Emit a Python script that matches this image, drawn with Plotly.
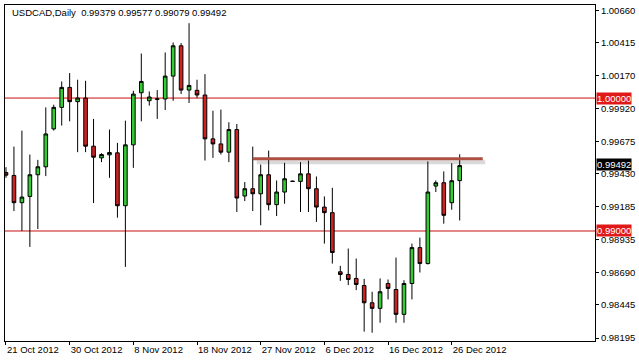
import plotly.graph_objects as go

# ---- data ----
opens = [0.99440, 0.99418, 0.99213, 0.99260, 0.99423, 0.99483, 0.99768, 0.99930, 1.00080, 0.99973,
         1.00000, 0.99638, 0.99550, 0.99573, 0.99588, 0.99190, 0.99648, 1.00040, 0.99980, 0.99995,
         0.99993, 1.00165, 1.00393, 1.00060, 1.00058, 1.00023, 0.99693, 0.99655, 0.99593, 0.99763,
         0.99263, 0.99318, 0.99280, 0.99423, 0.99198, 0.99293, 0.99375, 0.99373, 0.99430, 0.99318,
         0.99180, 0.99138, 0.98693, 0.98673, 0.98643, 0.98590, 0.98460, 0.98418, 0.98605, 0.98560,
         0.98373, 0.98605, 0.98875, 0.98755, 0.99338, 0.99363, 0.99213, 0.99379]
highs = [0.99480, 0.99635, 0.99755, 0.99575, 0.99535, 0.99930, 0.99950, 1.00125, 1.00188, 1.00138,
         1.00130, 0.99843, 0.99585, 0.99763, 0.99663, 0.99830, 1.00055, 1.00335, 1.00050, 1.00060,
         1.00343, 1.00418, 1.00413, 1.00563, 1.00138, 1.00180, 0.99905, 0.99913, 0.99818, 0.99805,
         0.99368, 0.99635, 0.99500, 0.99605, 0.99380, 0.99513, 0.99378, 0.99518, 0.99530, 0.99410,
         0.99260, 0.99325, 0.98738, 0.98868, 0.98793, 0.98640, 0.98543, 0.98643, 0.98635, 0.98800,
         0.98630, 0.98905, 0.98950, 0.99523, 0.99380, 0.99448, 0.99510, 0.99577]
lows = [0.99400, 0.99150, 0.99000, 0.98880, 0.99015, 0.99413, 0.99755, 0.99793, 0.99825, 0.99593,
        0.99593, 0.99210, 0.99518, 0.99400, 0.99100, 0.98730, 0.99475, 0.99825, 0.99943, 0.99843,
        0.99910, 0.99980, 1.00030, 0.99963, 1.00000, 0.99530, 0.99550, 0.99575, 0.99518, 0.99143,
        0.99225, 0.99150, 0.99043, 0.99155, 0.99113, 0.99205, 0.99370, 0.99143, 0.99143, 0.99068,
        0.98905, 0.98755, 0.98625, 0.98593, 0.98555, 0.98243, 0.98235, 0.98310, 0.98485, 0.98310,
        0.98310, 0.98485, 0.98688, 0.98748, 0.99293, 0.99055, 0.99160, 0.99079]
closes = [0.99420, 0.99213, 0.99255, 0.99423, 0.99483, 0.99730, 0.99930, 1.00080, 0.99973, 1.00000,
          0.99638, 0.99555, 0.99575, 0.99590, 0.99190, 0.99648, 1.00030, 1.00125, 1.00008, 0.99990,
          1.00165, 1.00393, 1.00060, 1.00095, 1.00023, 0.99693, 0.99655, 0.99593, 0.99763, 0.99248,
          0.99318, 0.99280, 0.99423, 0.99198, 0.99293, 0.99393, 0.99373, 0.99430, 0.99318, 0.99180,
          0.99138, 0.98838, 0.98673, 0.98635, 0.98598, 0.98460, 0.98418, 0.98543, 0.98568, 0.98373,
          0.98605, 0.98875, 0.98755, 0.99293, 0.99363, 0.99118, 0.99378, 0.99492]
bar_index = list(range(len(opens)))

date_tick_pos = [0, 8, 16, 24, 32, 40, 48, 56]
date_tick_text = ["21 Oct 2012", "30 Oct 2012", "8 Nov 2012", "18 Nov 2012",
                  "27 Nov 2012", "6 Dec 2012", "16 Dec 2012", "26 Dec 2012"]

price_ticks = [0.98195, 0.98445, 0.98690, 0.98935, 0.99185, 0.99430,
               0.99675, 0.99920, 1.00170, 1.00415, 1.00660]
price_tick_text = ["%.5f" % v for v in price_ticks]

level_lines = [1.00000, 0.99000]
level_text = ["1.00000", "0.99000"]
resistance_level = 0.99543
resistance_start, resistance_end = 31, 59.9
title_text = "USDCAD,Daily  0.99379 0.99577 0.99079 0.99492"
last_price = 0.99492

FONT = "Liberation Sans, Arial, sans-serif"

fig = go.Figure()
fig.add_trace(go.Candlestick(
    x=bar_index, open=opens, high=highs, low=lows, close=closes,
    increasing=dict(line=dict(color="black", width=1), fillcolor="#33cc33"),
    decreasing=dict(line=dict(color="black", width=1), fillcolor="#cc2222"),
    whiskerwidth=0, showlegend=False, hoverinfo="skip",
))

shapes = []
for lv in level_lines:
    shapes.append(dict(type="line", xref="paper", x0=0, x1=1, yref="y", y0=lv, y1=lv,
                       line=dict(color="#c81010", width=1), layer="below"))
# shadow of the resistance trend line
shapes.append(dict(type="line", xref="x", x0=resistance_start + 0.5, x1=resistance_end + 0.3,
                   yref="y", y0=resistance_level - 0.00026, y1=resistance_level - 0.00026,
                   line=dict(color="rgba(160,160,160,0.4)", width=4), layer="below"))
shapes.append(dict(type="line", xref="x", x0=resistance_start, x1=resistance_end,
                   yref="y", y0=resistance_level, y1=resistance_level,
                   line=dict(color="#ad5043", width=3), layer="above"))

annotations = [
    dict(text=title_text, xref="paper", yref="paper", x=5 / 593, y=1 - 8 / 337,
         xanchor="left", yanchor="middle", showarrow=False,
         font=dict(family=FONT, size=9.5, color="black")),
]
for lv, txt in zip(level_lines, level_text):
    annotations.append(dict(text=txt, xref="paper", yref="y", x=1.0, y=lv, xanchor="left",
                            yanchor="middle", xshift=1, showarrow=False, bgcolor="#e01818",
                            font=dict(family=FONT, size=9.5, color="white"), borderpad=0))
annotations.append(dict(text="%.5f" % last_price, xref="paper", yref="y", x=1.0, y=last_price,
                        xanchor="left", yanchor="middle", xshift=1, yshift=1, showarrow=False,
                        bgcolor="black", font=dict(family=FONT, size=9.5, color="white"),
                        borderpad=0))

fig.update_layout(
    width=639, height=361,
    margin=dict(l=4, r=42, t=4, b=20),
    paper_bgcolor="white", plot_bgcolor="white",
    boxgap=0.35,
    shapes=shapes, annotations=annotations,
    xaxis=dict(range=[-0.125, 74], tickvals=date_tick_pos, ticktext=date_tick_text,
               ticks="outside", ticklen=3, tickcolor="black", showgrid=False, zeroline=False,
               showline=True, linecolor="black", linewidth=1, mirror=True,
               ticklabelposition="outside right",
               rangeslider=dict(visible=False),
               tickfont=dict(family=FONT, size=9.5, color="black")),
    yaxis=dict(range=[0.981725, 1.0070], side="right", tickvals=price_ticks,
               ticktext=price_tick_text, ticks="outside", ticklen=3, tickcolor="black",
               showgrid=False, zeroline=False, showline=True, linecolor="black",
               linewidth=1, mirror=True,
               tickfont=dict(family=FONT, size=9.5, color="black")),
)

fig.write_html("out.html")
